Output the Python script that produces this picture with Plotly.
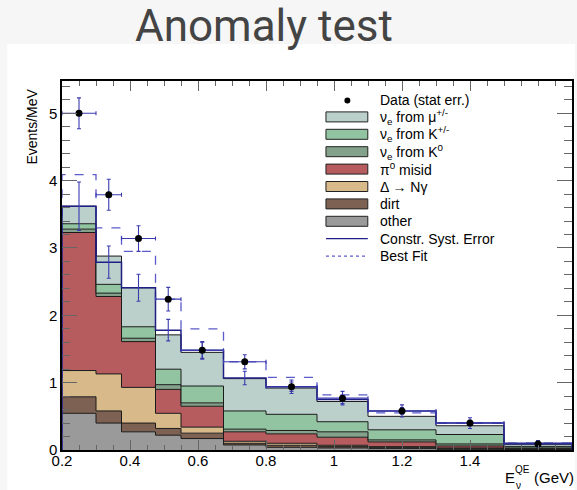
import plotly.graph_objects as go

# ---------------- data ----------------
bin_edges = [0.2, 0.3, 0.375, 0.475, 0.55, 0.675, 0.8, 0.95, 1.1, 1.3, 1.5, 3.0]

other        = [0.545, 0.40, 0.27, 0.22, 0.17, 0.075, 0.04, 0.03, 0.02, 0.01, 0.005]
dirt         = [0.245, 0.18, 0.13, 0.10, 0.08, 0.025, 0.03, 0.02, 0.015, 0.01, 0.005]
delta_ngamma = [0.39, 0.55, 0.53, 0.225, 0.09, 0.03, 0.03, 0.02, 0.015, 0.01, 0.005]
pi0_misid    = [2.05, 1.15, 0.68, 0.355, 0.31, 0.14, 0.14, 0.12, 0.07, 0.03, 0.005]
nue_k0       = [0.05, 0.05, 0.05, 0.07, 0.05, 0.04, 0.05, 0.08, 0.03, 0.03, 0.01]
nue_kpm      = [0.08, 0.13, 0.17, 0.23, 0.25, 0.27, 0.24, 0.15, 0.15, 0.14, 0.02]
nue_mu       = [0.26, 0.42, 0.58, 0.51, 0.50, 0.48, 0.39, 0.30, 0.20, 0.13, 0.03]

data_vals  = [5.0, 3.79, 3.14, 2.24, 1.48, 1.31, 0.94, 0.77, 0.58, 0.40, 0.09]
data_err   = [0.23, 0.23, 0.19, 0.175, 0.13, 0.105, 0.10, 0.10, 0.09, 0.08, 0.05]
constr     = [3.62, 2.79, 2.41, 1.78, 1.48, 1.07, 0.94, 0.75, 0.58, 0.40, 0.10]
constr_err = [0.36, 0.24, 0.20, 0.16, 0.12, 0.10, 0.07, 0.06, 0.05, 0.04, 0.02]
best_fit   = [4.09, 3.30, 2.95, 2.24, 1.80, 1.31, 1.08, 0.82, 0.55, 0.40, 0.10]

x_tick_vals = [0.2, 0.4, 0.6, 0.8, 1.0, 1.2, 1.4, 3.0]
x_tick_text = ["0.2", "0.4", "0.6", "0.8", "1", "1.2", "1.4", "3.0"]
y_tick_vals = [0, 1, 2, 3, 4, 5]

components = [
    ("other", other, "#9a9a9a"),
    ("dirt", dirt, "#7d6152"),
    ("Δ → Nγ", delta_ngamma, "#d7b98a"),
    ("π<sup>0</sup> misid", pi0_misid, "#b65b5e"),
    ("ν<sub>e</sub> from K<sup>0</sup>", nue_k0, "#84a28b"),
    ("ν<sub>e</sub> from K<sup>+/-</sup>", nue_kpm, "#92c4a1"),
    ("ν<sub>e</sub> from μ<sup>+/-</sup>", nue_mu, "#bcd0cb"),
]

# ---------------- display mapping (last bin compressed as in original) ----
def disp(e):
    return e if e <= 1.5 else 1.5 + (e - 1.5) * (0.2 / 1.5)

ed = [disp(e) for e in bin_edges]
centers = [(ed[i] + ed[i + 1]) / 2 for i in range(len(ed) - 1)]
halfw = [(ed[i + 1] - ed[i]) / 2 for i in range(len(ed) - 1)]

NAVY = "#1f1f86"
ERRBLUE = "#3b3bb0"
FITBLUE = "#5b5bcc"

fig = go.Figure()

# stacked histogram
cum = [0.0] * len(other)
for i, (name, vals, col) in enumerate(components):
    cum = [c + v for c, v in zip(cum, vals)]
    fig.add_trace(go.Scatter(
        x=ed, y=cum + [cum[-1]], mode="lines", line=dict(shape="hv", color="#1a1a1a", width=1),
        fill="tozeroy" if i == 0 else "tonexty", fillcolor=col, hoverinfo="skip", showlegend=False))

def step_closed(vals):
    xs = [ed[0]] + ed + [ed[-1]]
    ys = [0] + list(vals) + [vals[-1], 0]
    return xs, ys

# best fit dashed
xs, ys = step_closed(best_fit)
fig.add_trace(go.Scatter(x=xs, y=ys, mode="lines",
                         line=dict(shape="hv", color=FITBLUE, width=1.3, dash="dash"),
                         hoverinfo="skip", showlegend=False))
# constrained systematic line
xs, ys = step_closed(constr)
fig.add_trace(go.Scatter(x=xs, y=ys, mode="lines",
                         line=dict(shape="hv", color=NAVY, width=1.5),
                         hoverinfo="skip", showlegend=False))
fig.add_trace(go.Scatter(x=centers, y=constr, mode="markers", marker=dict(size=1, color=NAVY, opacity=0),
                         error_y=dict(type="data", array=constr_err, color=ERRBLUE, thickness=1.1, width=2),
                         hoverinfo="skip", showlegend=False))
# data
fig.add_trace(go.Scatter(x=centers, y=data_vals, mode="markers",
                         marker=dict(size=7, color="black"),
                         error_y=dict(type="data", array=data_err, color=ERRBLUE, thickness=1.1, width=2),
                         error_x=dict(type="data", array=halfw, color=ERRBLUE, thickness=1.1, width=2),
                         hoverinfo="skip", showlegend=False))

# ---------------- layout geometry ----------------
W, H = 577, 490
L, R, T, B = 62, 3, 81, 40
PW, PH = W - L - R, H - T - B

def px(x):
    return (x - L) / PW

def py(y):
    return (H - B - y) / PH

shapes = []
annotations = []

# page background: gray strip with white card
shapes.append(dict(type="rect", xref="paper", yref="paper", x0=px(7), x1=px(W), y0=py(H), y1=py(44),
                   fillcolor="white", line=dict(width=0), layer="below"))

# title
annotations.append(dict(text="Anomaly test", xref="paper", yref="paper", x=px(265), y=py(26),
                        xanchor="center", yanchor="middle", showarrow=False,
                        font=dict(family="Roboto", size=44, color="#444444")))

# manual legend
LEG_TXT_X = 379
row0, dy = 99.5, 17.4
sw_x0, sw_x1 = 327, 369
legfont = dict(family="Liberation Sans, Arial, sans-serif", size=14, color="black")

def row(k):
    return row0 + k * dy

# data marker
shapes.append(dict(type="circle", xref="paper", yref="paper",
                   x0=px(345.5), x1=px(351.5), y0=py(row(0) + 4), y1=py(row(0) - 2),
                   fillcolor="black", line=dict(width=0)))
annotations.append(dict(text="Data (stat err.)", xref="paper", yref="paper", x=px(LEG_TXT_X), y=py(row(0)),
                        xanchor="left", yanchor="middle", showarrow=False, font=legfont))
for k, (name, vals, col) in enumerate(reversed(components), start=1):
    yc = row(k)
    shapes.append(dict(type="rect", xref="paper", yref="paper", x0=px(sw_x0), x1=px(sw_x1),
                       y0=py(yc + 5), y1=py(yc - 5), fillcolor=col, line=dict(color="#222222", width=1)))
    annotations.append(dict(text=name, xref="paper", yref="paper", x=px(LEG_TXT_X), y=py(yc),
                            xanchor="left", yanchor="middle", showarrow=False, font=legfont))
yc = row(8)
shapes.append(dict(type="line", xref="paper", yref="paper", x0=px(sw_x0), x1=px(sw_x1), y0=py(yc), y1=py(yc),
                   line=dict(color=NAVY, width=1.3)))
annotations.append(dict(text="Constr. Syst. Error", xref="paper", yref="paper", x=px(LEG_TXT_X), y=py(yc),
                        xanchor="left", yanchor="middle", showarrow=False, font=legfont))
yc = row(9)
shapes.append(dict(type="line", xref="paper", yref="paper", x0=px(sw_x0), x1=px(sw_x1), y0=py(yc), y1=py(yc),
                   line=dict(color=FITBLUE, width=1.3, dash="dot")))
annotations.append(dict(text="Best Fit", xref="paper", yref="paper", x=px(LEG_TXT_X), y=py(yc),
                        xanchor="left", yanchor="middle", showarrow=False, font=legfont))

# axis titles
axfont = dict(family="Liberation Sans, Arial, sans-serif", size=15, color="black")
small = dict(family="Liberation Sans, Arial, sans-serif", size=10, color="black")
annotations.append(dict(text="E", xref="paper", yref="paper", x=px(505), y=py(477.5),
                        xanchor="left", yanchor="middle", showarrow=False, font=axfont))
annotations.append(dict(text="QE", xref="paper", yref="paper", x=px(515), y=py(469),
                        xanchor="left", yanchor="middle", showarrow=False, font=small))
annotations.append(dict(text="ν", xref="paper", yref="paper", x=px(515.5), y=py(485),
                        xanchor="left", yanchor="middle", showarrow=False, font=small))
annotations.append(dict(text="(GeV)", xref="paper", yref="paper", x=px(534), y=py(477.5),
                        xanchor="left", yanchor="middle", showarrow=False, font=axfont))
annotations.append(dict(text="Events/MeV", xref="paper", yref="paper", x=px(32), y=py(126.5),
                        xanchor="center", yanchor="middle", textangle=-90, showarrow=False,
                        font=dict(family="Liberation Sans, Arial, sans-serif", size=14, color="black")))

tickfont = dict(family="Liberation Sans, Arial, sans-serif", size=15, color="black")
fig.update_layout(
    width=W, height=H, margin=dict(l=L, r=R, t=T, b=B, pad=0),
    paper_bgcolor="#f6f6f6", plot_bgcolor="white",
    showlegend=False, shapes=shapes, annotations=annotations,
    xaxis=dict(range=[0.2, 1.7], tickmode="array", tickvals=[disp(v) for v in x_tick_vals], ticktext=x_tick_text,
               ticks="inside", ticklen=10, tickcolor="#666666", tickwidth=1, ticklabelstandoff=-4,
               minor=dict(ticks="inside", ticklen=5, tickcolor="#666666", tick0=0.2, dtick=0.05, showgrid=False),
               showline=True, linecolor="black", linewidth=1.5, mirror="allticks",
               showgrid=False, zeroline=False, tickfont=tickfont, fixedrange=True),
    yaxis=dict(range=[0, 5.48], tickmode="array", tickvals=y_tick_vals,
               ticks="inside", ticklen=15, tickcolor="#666666", tickwidth=1,
               minor=dict(ticks="inside", ticklen=8, tickcolor="#666666", tick0=0, dtick=0.2, showgrid=False),
               showline=True, linecolor="black", linewidth=1.5, mirror="allticks",
               showgrid=False, zeroline=False, tickfont=tickfont, fixedrange=True),
)

fig.write_html("out.html")
